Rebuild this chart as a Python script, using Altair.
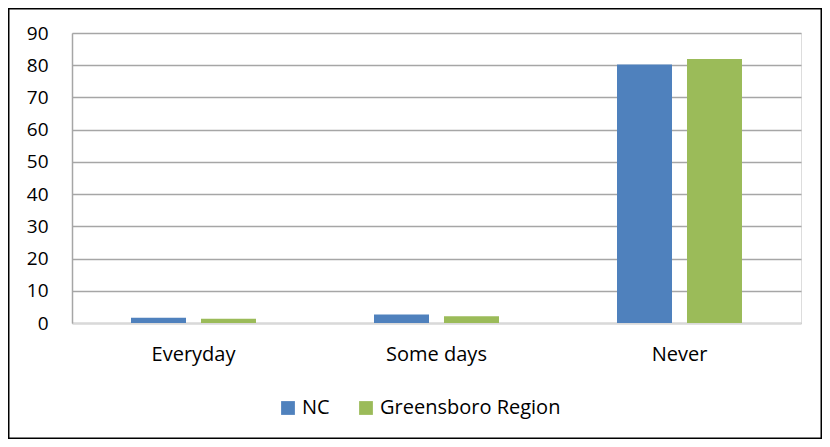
import altair as alt
import pandas as pd

categories = ["Everyday", "Some days", "Never"]
series = ["NC", "Greensboro Region"]
nc_values = [1.6, 2.6, 80.2]
gr_values = [1.3, 2.1, 81.9]
colors = ["#4F81BD", "#9BBB59"]

rows = []
for c, v in zip(categories, nc_values):
    rows.append({"Category": c, "Series": series[0], "Value": v})
for c, v in zip(categories, gr_values):
    rows.append({"Category": c, "Series": series[1], "Value": v})
df = pd.DataFrame(rows)

FONT = "Open Sans"
W, H = 729, 290
PAD = {"left": 64, "top": 25, "right": 21, "bottom": 116}

bars = alt.Chart(df).mark_bar(size=55).encode(
    x=alt.X("Category:N", sort=categories,
            scale=alt.Scale(paddingInner=0, paddingOuter=0),
            axis=alt.Axis(title=None, labelAngle=0, ticks=False, domainColor="#D9D9D9",
                          domainWidth=2, labelPadding=21, labelFontSize=20,
                          labelFont=FONT, labelColor="#000000", grid=False)),
    xOffset=alt.XOffset("Series:N", sort=series,
                        scale=alt.Scale(paddingInner=0.214, paddingOuter=0.843)),
    y=alt.Y("Value:Q", scale=alt.Scale(domain=[0, 90], nice=False),
            axis=alt.Axis(title=None, values=list(range(0, 100, 10)), ticks=False,
                          domainColor="#A6A6A6", domainWidth=1.5, gridColor="#A6A6A6",
                          gridWidth=1.5, labelPadding=24, labelFontSize=19,
                          labelFont=FONT, labelColor="#000000")),
    color=alt.Color("Series:N", sort=series,
                    scale=alt.Scale(domain=series, range=colors),
                    legend=alt.Legend(title=None, orient="none", direction="horizontal",
                                      legendX=206, legendY=365, symbolType="square",
                                      symbolSize=190, symbolStrokeWidth=0, labelFontSize=20,
                                      labelFont=FONT, labelColor="#000000", labelOffset=4,
                                      labelLimit=0, columnPadding=26, padding=0)),
)

border = alt.Chart(pd.DataFrame({"a": [0]})).mark_rect(
    fill=None, stroke="#000000", strokeWidth=1.5
).encode(
    x=alt.value(-PAD["left"] + 0.75),
    x2=alt.value(W + PAD["right"] - 0.75),
    y=alt.value(-PAD["top"] + 0.75),
    y2=alt.value(H + PAD["bottom"] - 0.75),
)

chart = alt.layer(bars, border).properties(
    width=W, height=H, padding=PAD, autosize=alt.AutoSizeParams(type="none")
).configure_view(stroke=None).configure(background="white")

chart.save("out.html", embed_options={"renderer": "svg", "actions": False})
